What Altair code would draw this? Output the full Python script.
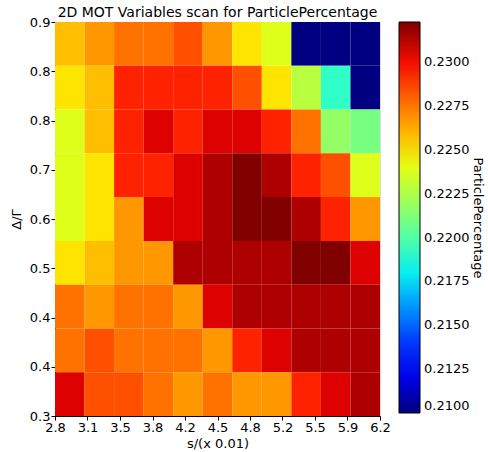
import altair as alt
import numpy as np
import pandas as pd

# ---- data ----
x_range = [2.8, 6.2]
y_range = [0.3, 0.9]
x_tick_labels = ["2.8", "3.1", "3.5", "3.8", "4.2", "4.5", "4.8", "5.2", "5.5", "5.9", "6.2"]
y_tick_labels = ["0.3", "0.4", "0.4", "0.5", "0.6", "0.7", "0.8", "0.8", "0.9"]  # bottom -> top
cbar_ticks = [0.21, 0.2125, 0.215, 0.2175, 0.22, 0.2225, 0.225, 0.2275, 0.23]
cbar_range = [0.21, 0.2323]

# rows listed from top (0.9) to bottom (0.3), 11 columns each
row0 = [0.2258, 0.2267, 0.2276, 0.2276, 0.2284, 0.2267, 0.2249, 0.2238, 0.2100, 0.2100, 0.2100]
row1 = [0.2249, 0.2258, 0.2295, 0.2295, 0.2295, 0.2295, 0.2284, 0.2249, 0.2228, 0.2191, 0.2100]
row2 = [0.2238, 0.2258, 0.2295, 0.2305, 0.2295, 0.2305, 0.2305, 0.2295, 0.2276, 0.2218, 0.2210]
row3 = [0.2238, 0.2249, 0.2295, 0.2295, 0.2305, 0.2314, 0.2323, 0.2314, 0.2295, 0.2284, 0.2238]
row4 = [0.2238, 0.2249, 0.2267, 0.2305, 0.2305, 0.2314, 0.2323, 0.2323, 0.2314, 0.2295, 0.2267]
row5 = [0.2249, 0.2258, 0.2267, 0.2267, 0.2314, 0.2314, 0.2314, 0.2314, 0.2323, 0.2323, 0.2305]
row6 = [0.2276, 0.2267, 0.2276, 0.2276, 0.2267, 0.2305, 0.2314, 0.2314, 0.2314, 0.2314, 0.2314]
row7 = [0.2276, 0.2284, 0.2276, 0.2276, 0.2276, 0.2267, 0.2295, 0.2305, 0.2314, 0.2314, 0.2314]
row8 = [0.2305, 0.2284, 0.2284, 0.2276, 0.2267, 0.2276, 0.2267, 0.2267, 0.2295, 0.2305, 0.2314]
grid = [row0, row1, row2, row3, row4, row5, row6, row7, row8]

# ---- build table ----
n_rows = len(grid)
n_cols = len(grid[0])
dx = (x_range[1] - x_range[0]) / n_cols
dy = (y_range[1] - y_range[0]) / n_rows
recs = []
for r, row in enumerate(grid):
    for c, v in enumerate(row):
        recs.append({
            "x": x_range[0] + c * dx, "x2": x_range[0] + (c + 1) * dx,
            "y": y_range[1] - (r + 1) * dy, "y2": y_range[1] - r * dy,
            "ParticlePercentage": v,
        })
df = pd.DataFrame(recs)

# jet colormap (matplotlib segment data)
def seg(points, t):
    xs = [p[0] for p in points]
    ys = [p[1] for p in points]
    return float(np.interp(t, xs, ys))

red = [(0, 0), (0.35, 0), (0.66, 1), (0.89, 1), (1, 0.5)]
green = [(0, 0), (0.125, 0), (0.375, 1), (0.64, 1), (0.91, 0), (1, 0)]
blue = [(0, 0.5), (0.11, 1), (0.34, 1), (0.65, 0), (1, 0)]
stops = np.linspace(0, 1, 41)
jet_colors = ["#%02x%02x%02x" % (round(seg(red, t) * 255), round(seg(green, t) * 255), round(seg(blue, t) * 255)) for t in stops]
jet_domain = [cbar_range[0] + t * (cbar_range[1] - cbar_range[0]) for t in stops]

x_ticks = list(np.linspace(x_range[0], x_range[1], len(x_tick_labels)))
y_ticks = list(np.linspace(y_range[0], y_range[1], len(y_tick_labels)))
x_step = (x_range[1] - x_range[0]) / (len(x_tick_labels) - 1)
y_step = (y_range[1] - y_range[0]) / (len(y_tick_labels) - 1)

font = "DejaVu Sans"
W, H = 325, 394

heat = alt.Chart(df).mark_rect(stroke=None).encode(
    x=alt.X("x:Q", scale=alt.Scale(domain=x_range, nice=False, zero=False),
            axis=alt.Axis(values=x_ticks, title="s/(x 0.01)",
                          labelExpr=f"{x_tick_labels}[round((datum.value-{x_range[0]})/{x_step})]",
                          grid=False, tickColor="black", domainColor="black",
                          labelFontSize=13, titleFontSize=13, labelColor="black", titleColor="black",
                          labelFont=font, titleFont=font, titleFontWeight="normal",
                          tickSize=4, labelPadding=1, titlePadding=3, labelOverlap=False, labelFlush=False)),
    x2="x2:Q",
    y=alt.Y("y:Q", scale=alt.Scale(domain=y_range, nice=False, zero=False),
            axis=alt.Axis(values=y_ticks, title="Δ/Γ",
                          labelExpr=f"{y_tick_labels}[round((datum.value-{y_range[0]})/{y_step})]",
                          grid=False, tickColor="black", domainColor="black",
                          labelFontSize=13, titleFontSize=13, labelColor="black", titleColor="black",
                          labelFont=font, titleFont=font, titleFontWeight="normal",
                          tickSize=4, labelPadding=1, titlePadding=6, labelOverlap=False, labelFlush=False)),
    y2="y2:Q",
    color=alt.Color("ParticlePercentage:Q",
                    scale=alt.Scale(domain=jet_domain, range=jet_colors, interpolate="rgb"),
                    legend=alt.Legend(orient="none", legendX=344, legendY=0, title=None,
                                      direction="vertical", gradientLength=391, gradientThickness=21,
                                      gradientStrokeColor="black", gradientStrokeWidth=1,
                                      values=cbar_ticks, format=".4f", labelOverlap=False,
                                      labelFontSize=13, labelFont=font, labelColor="black",
                                      labelOffset=4, padding=0)),
)

cb_title = alt.Chart(pd.DataFrame({"t": ["ParticlePercentage"]})).mark_text(
    angle=90, font=font, fontSize=13, color="black", align="center", baseline="middle"
).encode(x=alt.value(423), y=alt.value(196), text="t:N")

chart = alt.layer(heat, cb_title).properties(
    width=W, height=H,
    title=alt.TitleParams("2D MOT Variables scan for ParticlePercentage", fontSize=14,
                          font=font, fontWeight="normal", color="black", offset=-4),
    autosize=alt.AutoSizeParams(type="none"),
    padding={"left": 55, "top": 22, "right": 108, "bottom": 36},
).configure_view(stroke="black", strokeWidth=1).configure(background="white")

chart.save("out.html", embed_options={"renderer": "svg", "actions": False})
